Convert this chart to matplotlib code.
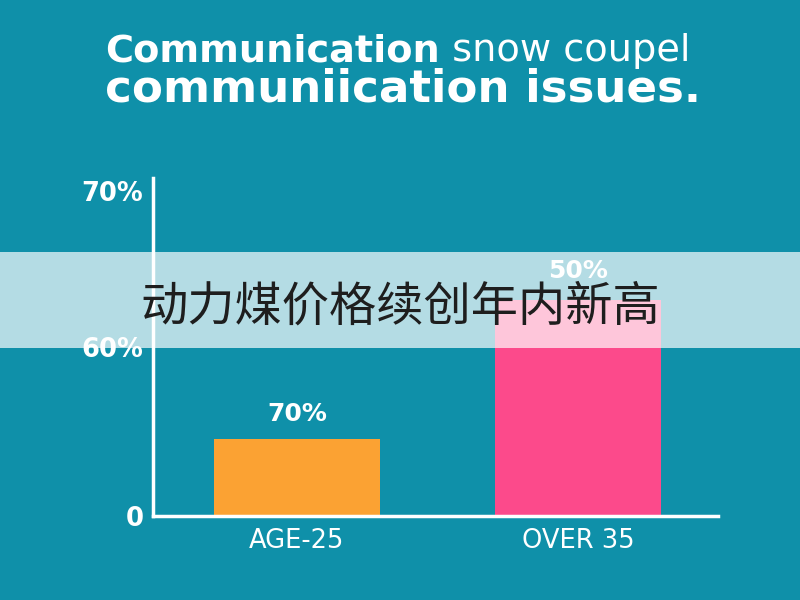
import matplotlib
matplotlib.use('Agg')
import matplotlib.pyplot as plt
import numpy as np

# Daten (Balkenhöhen in Achseneinheiten, Beschriftungen wie im Bild)
categories = ['AGE-25', 'OVER 35']
values = [22.8, 63.9]
value_labels = ['70%', '50%']
bar_colors = ['#FBA233', '#FC4A8B']
tick_pos = [0, 50, 96.2]
tick_labels = ['0', '60%', '70%']

title_bold = 'Communication'
title_rest = ' snow coupel'
title_line2 = 'communiication issues.'
banner = '动力煤价格续创年内新高'

bg = '#0F90A9'

fig = plt.figure(figsize=(8, 6), dpi=100, facecolor=bg)
ax = fig.add_axes([0.19125, 0.14, 0.70625, 0.5633])
ax.set_facecolor(bg)

x = np.arange(len(categories))
bars = ax.bar(x, values, width=0.59, color=bar_colors, zorder=2)
ax.set_xlim(-0.512, 1.498)
ax.set_ylim(0, 100)

# Abstand der Wertbeschriftung über dem Balken (pt)
label_offsets = [9, 12.5]
for b, lab, off in zip(bars, value_labels, label_offsets):
    ax.annotate(lab, (b.get_x() + b.get_width() / 2, b.get_height()),
                xytext=(0, off), textcoords='offset points', ha='center', va='bottom',
                color='white', fontsize=18, fontweight='bold', family='DejaVu Sans')

ax.set_xticks(x)
ax.set_xticklabels(categories, color='white', fontsize=18.5, family='DejaVu Sans')
ax.set_yticks(tick_pos)
ax.set_yticklabels(tick_labels, color='white', fontsize=18.5, fontweight='bold', family='DejaVu Sans')
ax.tick_params(length=0, pad=7)
ax.tick_params(axis='x', pad=9)

for s in ['top', 'right']:
    ax.spines[s].set_visible(False)
for s in ['left', 'bottom']:
    ax.spines[s].set_color('white')
    ax.spines[s].set_linewidth(2.5)

# Titel
t1 = fig.text(0.131, 0.915, title_bold, color='white', fontsize=27.5, fontweight='bold',
              family='DejaVu Sans', va='center', ha='left')
fig.canvas.draw()
bb = t1.get_window_extent()
fig.text(bb.x1 / 800, 0.915, title_rest, color='white', fontsize=27.5,
         family='DejaVu Sans', va='center', ha='left')
fig.text(0.131, 0.851, title_line2, color='white', fontsize=32.5, fontweight='bold',
         family='DejaVu Sans', va='center', ha='left')

# Banner quer über das Bild
fig.patches.append(plt.Rectangle((0, 0.42), 1, 0.16, transform=fig.transFigure,
                                 facecolor='white', alpha=0.69, edgecolor='none', zorder=5))
fig.text(0.5, 0.488, banner, color='#1e1e1e', fontsize=34, ha='center', va='center',
         family=['Noto Sans CJK SC', 'DejaVu Sans'], zorder=6)

fig.savefig('out.png', dpi=100, facecolor=bg)
